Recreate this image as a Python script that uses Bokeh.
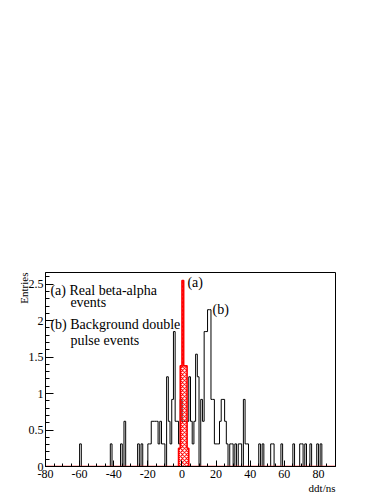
import numpy as np
from bokeh.plotting import figure
from bokeh.models import Range1d, SingleIntervalTicker, Title
from bokeh.embed import file_html
from bokeh.resources import INLINE
from bokeh.core.properties import value

# ---- data -------------------------------------------------------------
x_min, x_max = -80, 90
y_max = 2.66
bin_width = 1

# (b) background double pulse events: left bin edge (ns) and height
bkg_left = [-60, -42, -36, -34, -26, -24, -20, -19, -18, -17, -16, -15, -14,
            -13, -12, -11, -9, -8, -7, -6, -5, -4, -3, -2, -1, 0, 1, 2, 3,
            4, 5, 6, 7, 8, 9, 11, 12, 13, 14, 15, 16, 17, 18, 19, 20, 21,
            22, 23, 24, 25, 26, 28, 29, 31, 33, 34, 36, 37, 38, 45, 47, 52,
            53, 58, 65, 69, 70, 72, 75, 79, 81]
bkg_height = [0.31, 0.31, 0.31, 0.62, 0.31, 0.31, 0.31, 0.31, 0.62, 0.62,
              0.62, 0.62, 0.31, 0.62, 0.31, 0.31, 1.23, 0.62, 0.31, 0.92,
              1.85, 0.62, 0.62, 0.31, 0.92, 0.62, 0.62, 0.62, 0.62, 1.23,
              0.62, 0.31, 0.62, 1.54, 1.23, 0.92, 0.62, 1.85, 1.85, 2.15,
              2.15, 0.92, 0.92, 0.31, 0.31, 0.31, 0.62, 0.92, 0.92, 0.62,
              0.31, 0.31, 0.31, 0.31, 0.31, 0.31, 0.92, 0.31, 0.31, 0.31,
              0.31, 0.31, 0.31, 0.31, 0.31, 0.31, 0.31, 0.31, 0.31, 0.31,
              0.31]

# (a) real beta-alpha events
sig_left = [-2, -1, 0, 1, 2, 3]
sig_height = [0.25, 1.38, 2.55, 1.38, 1.38, 0.25]

x_ticks = [-80, -60, -40, -20, 0, 20, 40, 60, 80]
x_tick_labels = ["-80", "-60", "-40", "-20", "0", "20", "40", "60", "80"]
y_ticks = [0, 0.5, 1, 1.5, 2, 2.5]
y_tick_labels = ["0", "0.5", "1", "1.5", "2", "2.5"]

legend_lines = ["(a) Real beta-alpha", "events", "(b) Background double", "pulse events"]
legend_x = [-77.1, -65.4, -77.1, -65.4]
legend_y = [2.41, 2.25, 1.95, 1.73]
tag_text = ["(a)", "(b)"]
tag_x = [3.2, 17.9]
tag_y = [2.52, 2.15]

x_title = "ddt/ns"
y_title = "Entries"

FONT = "Liberation Serif"

# ---- build full histograms -------------------------------------------
edges = np.arange(x_min, x_max + bin_width, bin_width)
nb = len(edges) - 1
bkg = np.zeros(nb)
for b, v in zip(bkg_left, bkg_height):
    bkg[int((b - x_min) / bin_width)] = v
sig = np.zeros(nb)
for b, v in zip(sig_left, sig_height):
    sig[int((b - x_min) / bin_width)] = v

p = figure(width=374, height=492, output_backend="svg", toolbar_location=None,
           x_range=Range1d(x_min, x_max), y_range=Range1d(0, y_max),
           min_border_left=45, min_border_right=39, min_border_top=272,
           min_border_bottom=24)
p.background_fill_color = "white"
p.border_fill_color = "white"
p.outline_line_color = "black"
p.outline_line_width = 1
p.grid.visible = False

# background histogram outline
p.step(x=list(edges), y=list(bkg) + [bkg[-1]], mode="after",
       line_color="black", line_width=1)

# signal histogram: hatched fill + red outline
sel = sig > 0
p.quad(left=edges[:-1][sel], right=edges[1:][sel], bottom=0, top=sig[sel],
       fill_alpha=0, line_alpha=0, hatch_pattern="diagonal_cross",
       hatch_color="red", hatch_scale=4, hatch_weight=1.2)
p.step(x=list(edges), y=list(sig) + [sig[-1]], mode="after",
       line_color="red", line_width=1.6)

# axes
xa = p.xaxis[0]
xa.ticker = SingleIntervalTicker(interval=20, num_minor_ticks=4)
xa.major_label_overrides = {t: l for t, l in zip(x_ticks, x_tick_labels)}
ya = p.yaxis[0]
ya.ticker = SingleIntervalTicker(interval=0.5, num_minor_ticks=5)
ya.major_label_overrides = {t: l for t, l in zip(y_ticks, y_tick_labels)}
for ax, tin, min_in in ((xa, 6, 3), (ya, 8, 4)):
    ax.major_tick_in = tin
    ax.major_tick_out = 0
    ax.minor_tick_in = min_in
    ax.minor_tick_out = 0
    ax.axis_line_color = "black"
    ax.major_tick_line_color = "black"
    ax.minor_tick_line_color = "black"
    ax.major_label_text_font = FONT
    ax.major_label_text_font_size = "12px"
    ax.major_label_text_color = "black"
ya.major_label_standoff = 2
xa.major_label_standoff = 3

# texts
p.text(x=legend_x, y=legend_y, text=legend_lines, text_font=value(FONT),
       text_font_size="14px", text_baseline="middle", text_align="left",
       text_color="black")
p.text(x=tag_x, y=tag_y, text=tag_text, text_font=value(FONT),
       text_font_size="14px", text_baseline="middle", text_align="left",
       text_color="black")

p.add_layout(Title(text=y_title, align="right", text_font=FONT,
                   text_font_size="11px", text_font_style="normal",
                   text_color="black", standoff=-8), "left")
p.add_layout(Title(text=x_title, align="right", text_font=FONT,
                   text_font_size="11px", text_font_style="normal",
                   text_color="black", standoff=-2), "below")

open("out.html", "w").write(file_html(p, INLINE))
